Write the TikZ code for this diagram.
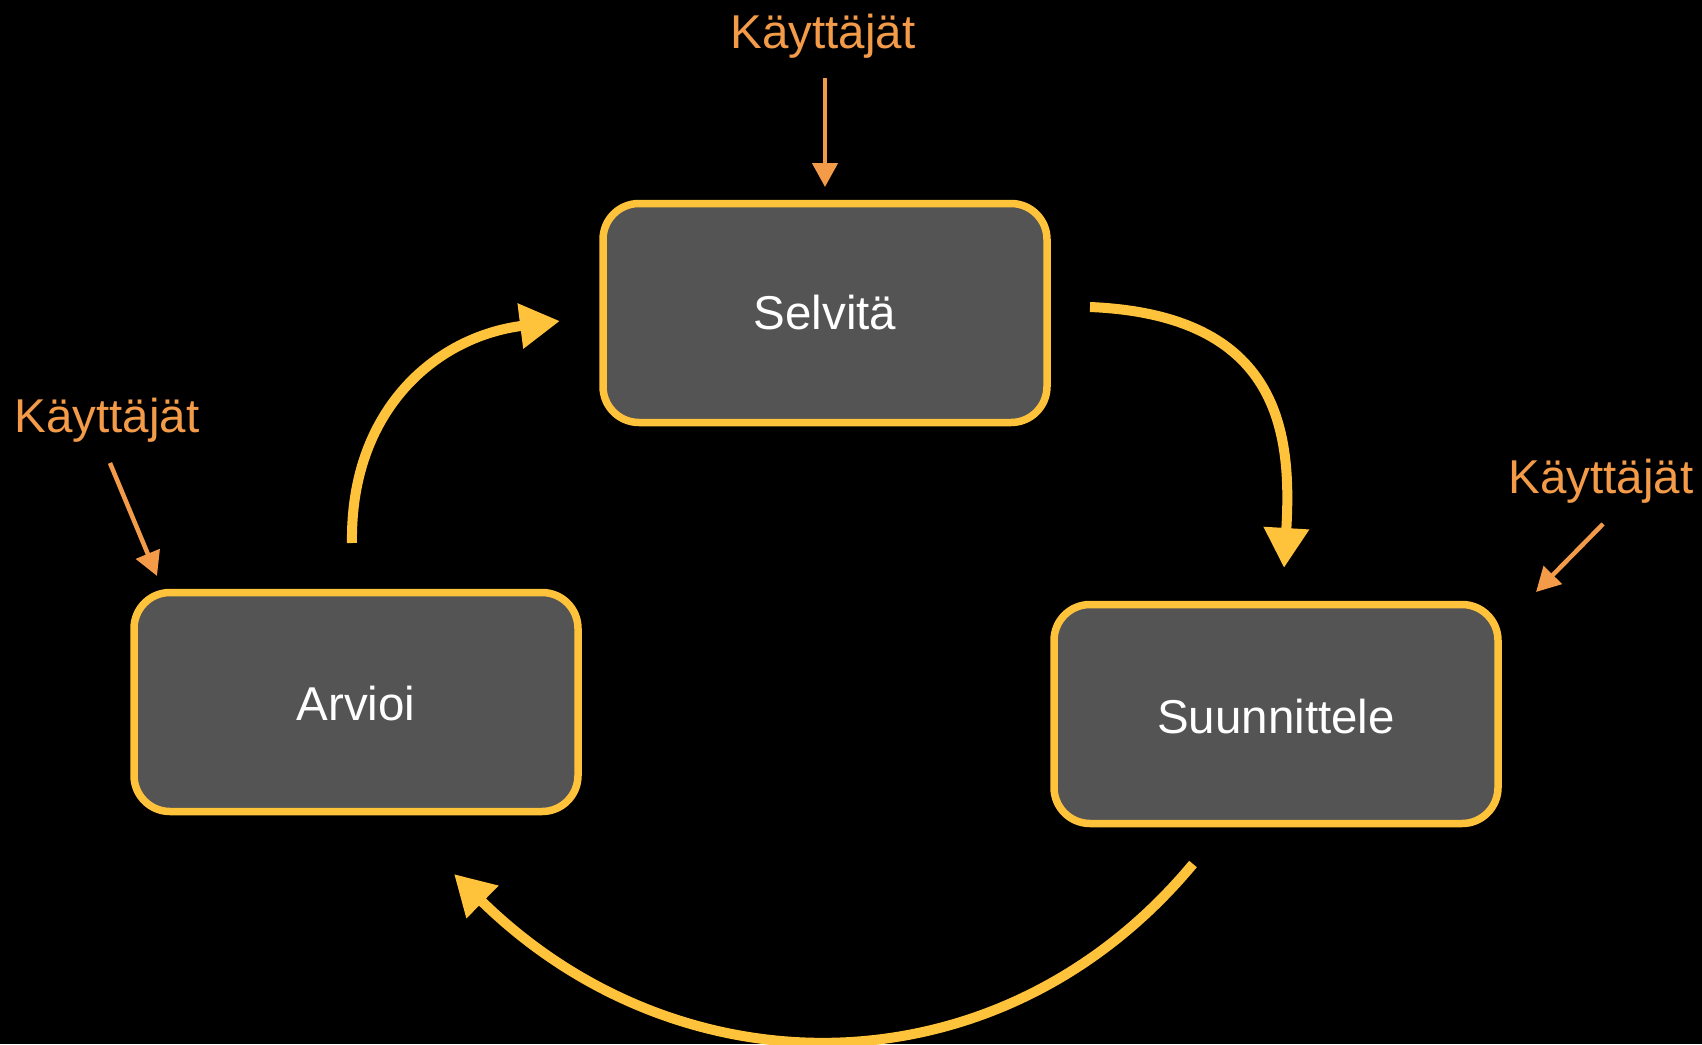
\documentclass[tikz,border=0pt]{standalone}
\usepackage{fontspec}
\setmainfont{Liberation Sans}
\usetikzlibrary{arrows.meta}
\definecolor{boxfill}{RGB}{84,84,84}
\definecolor{amber}{RGB}{255,194,59}
\definecolor{usrorange}{RGB}{243,155,72}
\tikzset{
  stagebox/.style={draw=amber, fill=boxfill, line width=7.5pt, rounded corners=36pt,
    minimum width=444pt, minimum height=219pt, text=white, inner sep=0pt,
    font=\fontsize{47.5}{57}\selectfont},
  userlabel/.style={text=usrorange, inner sep=0pt, font=\fontsize{47.5}{57}\selectfont},
  userarrow/.style={draw=usrorange, line width=4.5pt, -{Triangle[length=24pt,width=25pt]}},
  cyclearrow/.style={draw=amber, line width=10pt, -{Triangle[length=40pt,width=43pt]}}
}
\begin{document}
\begin{tikzpicture}[x=1pt,y=-1pt]
\fill[black] (0,0) rectangle (1702,1044);
\useasboundingbox (0,0) rectangle (1702,1044);

\node[stagebox] (sel) at (825,313) {Selvitä};
\node[stagebox] (arv) at (356,702) {};
\node[stagebox] (suu) at (1276,714) {};
\node[text=white, inner sep=0pt, font=\fontsize{47.5}{57}\selectfont] (arvt) at (356,704) {Arvioi};
\node[text=white, inner sep=0pt, font=\fontsize{47.5}{57}\selectfont] (suut) at (1276,717) {Suunnittele};

\node[userlabel] (u1) at (823,36) {Käyttäjät};
\node[userlabel] (u2) at (107,420) {Käyttäjät};
\node[userlabel] (u3) at (1601,481) {Käyttäjät};

\coordinate (u1s) at (825,78);
\coordinate (u1e) at (825,187);
\coordinate (u2s) at (110,463);
\coordinate (u2e) at (157,576);
\coordinate (u3s) at (1603,524);
\coordinate (u3e) at (1536,592);

\draw[userarrow] (u1s) -- (u1e);
\draw[userarrow] (u2s) -- (u2e);
\draw[userarrow] (u3s) -- (u3e);

\coordinate (a1s) at (1090,307);
\coordinate (a1e) at (1284,568);
\coordinate (a2s) at (1193,864);
\coordinate (a2e) at (454,874);
\coordinate (a3s) at (352,543);
\coordinate (a3e) at (560,321);

\draw[cyclearrow] (a1s) .. controls (1281,315) and (1292,434) .. (a1e);
\draw[cyclearrow] (a2s) .. controls (1000,1096) and (680,1096) .. (a2e);
\draw[cyclearrow] (a3s) .. controls (350,412) and (434,337) .. (a3e);
\end{tikzpicture}
\end{document}
